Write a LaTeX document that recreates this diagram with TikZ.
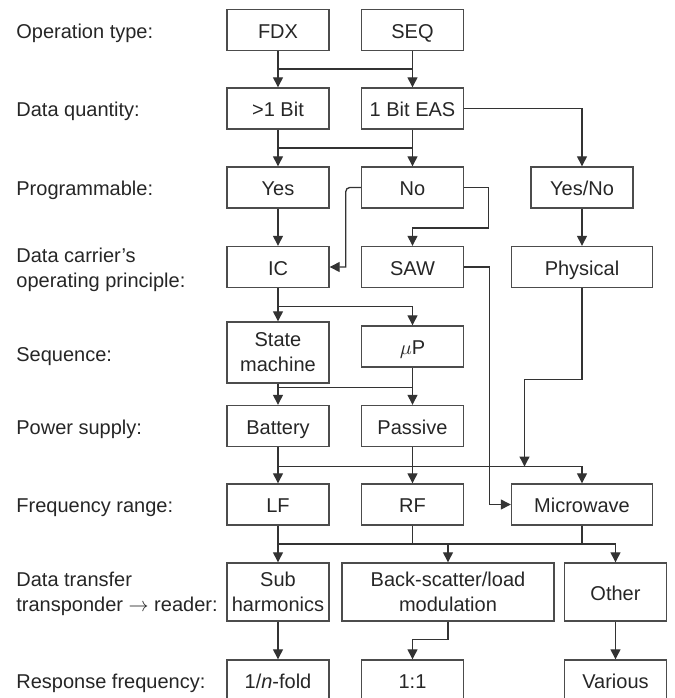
\documentclass[tikz,border=0pt]{standalone}
\usepackage{fontspec}
\setmainfont{Liberation Sans}
\usetikzlibrary{arrows.meta}
\begin{document}
\begin{tikzpicture}[x=0.5pt, y=-0.5pt,
          every node/.style = {font=\fontsize{10}{12.5}\selectfont, text=black!85},
          frame/.style = {shape=rectangle, draw=black!70, line width=0.7pt,
            align=center, inner sep=0pt,
            minimum width=51pt, minimum height=20.5pt},
          box/.style = {frame, text height=10pt, text depth=1.6pt},
          wide/.style = {box, minimum width=70.5pt},
          tall/.style = {frame, minimum height=29pt},
          caption/.style = {anchor=west, align=left, inner sep=0pt},
          onecap/.style = {caption, text height=10pt, text depth=1.6pt},
          line/.style = {draw=black!80, line width=0.65pt},
          arr/.style = {line, -{Triangle[length=5pt,width=5pt]}}]
  \useasboundingbox (0,0) rectangle (675,698);
  % row captions
  \node[onecap] (c1) at (16,30)    {Operation type:};
  \node[onecap] (c2) at (16,108.5) {Data quantity:};
  \node[onecap] (c3) at (16,187.5) {Programmable:};
  \node[caption] (c4) at (16,270)  {Data carrier's\\operating principle:};
  \node[onecap] (c5) at (16,353)   {Sequence:};
  \node[onecap] (c6) at (16,426)   {Power supply:};
  \node[onecap] (c7) at (16,504.5) {Frequency range:};
  \node[caption] (c8) at (16,594)  {Data transfer\\transponder $\rightarrow$ reader:};
  \node[onecap] (c9) at (16,680.5) {Response frequency:};
  % boxes
  \node[box] (fdx)   at (278,30)      {FDX};
  \node[box] (seq)   at (412.5,30)    {SEQ};
  \node[box] (multi) at (278,108.5)   {>1 Bit};
  \node[box] (eas)   at (412.5,108.5) {1 Bit EAS};
  \node[box] (yes)   at (278,187.5)   {Yes};
  \node[box] (no)    at (412.5,187.5) {No};
  \node[box] (yesno) at (582,187.5)   {Yes/No};
  \node[box] (ic)    at (278,267)     {IC};
  \node[box] (saw)   at (412.5,267)   {SAW};
  \node[wide] (phys) at (582,267)     {Physical};
  \node[frame, minimum height=30.5pt] (state) at (278,352.5) {State\\machine};
  \node[box] (mup)   at (412.5,346.5) {$\mu$P};
  \node[box] (batt)  at (278,426)     {Battery};
  \node[box] (pass)  at (412.5,426)   {Passive};
  \node[box] (lf)    at (278,504.5)   {LF};
  \node[box] (rf)    at (412.5,504.5) {RF};
  \node[wide] (micro) at (582,504.5)  {Microwave};
  \node[tall] (sub)  at (278,592)     {Sub\\harmonics};
  \node[tall, minimum width=106pt] (back) at (448,592) {Back-scatter/load\\modulation};
  \node[tall, text height=10pt, text depth=1.6pt] (other) at (615.5,592) {Other};
  \node[box] (nfold) at (278,680.5)   {1/\textit{n}-fold};
  \node[box] (one)   at (412.5,680.5) {1:1};
  \node[box] (var)   at (615.5,680.5) {Various};
  % bus levels
  \coordinate (b1) at (0,69);
  \coordinate (b2) at (0,148);
  \coordinate (b5) at (0,387.5);
  \coordinate (pm) at (524.5,466.5);
  \coordinate (b7) at (0,544);
  % connectors
  \draw[arr] (fdx) -- (multi);
  \draw[arr] (seq) -- (eas);
  \draw[line] (fdx.south |- b1) -- (seq.south |- b1);
  \draw[arr] (multi) -- (yes);
  \draw[arr] (eas) -- (no);
  \draw[line] (multi.south |- b2) -- (eas.south |- b2);
  \draw[arr] (eas.east) -| (yesno.north);
  \draw[arr] (yes) -- (ic);
  \draw[arr] (no.west) [rounded corners=2pt] -- ++(-15,0) [sharp corners] |- (ic.east);
  \draw[arr] (no.east) -- ++(24,0) -- ++(0,40.5) -| (saw.north);
  \draw[arr] (yesno) -- (phys);
  \draw[arr] (ic) -- (state);
  \draw[arr] (ic.south) -- ++(0,18) -| (mup.north);
  \draw[arr] (saw.east) -- ++(25,0) |- (micro.west);
  \draw[arr] (phys.south) -- ++(0,91) -| (pm);
  \draw[arr] (state) -- (batt);
  \draw[arr] (mup) -- (pass);
  \draw[line] (state.south |- b5) -- (mup.south |- b5);
  \draw[arr] (batt) -- (lf);
  \draw[arr] (pass) -- (rf);
  \draw[arr] (batt.south |- pm) -| (micro.north);
  \draw[arr] (lf) -- (sub);
  \draw[line] (rf.south) -- (rf.south |- b7);
  \draw[line] (micro.south) -- (micro.south |- b7);
  \draw[arr] (lf.south |- b7) -| (other.north);
  \draw[arr] (back.north |- b7) -- (back.north);
  \draw[arr] (sub) -- (nfold);
  \draw[arr] (back.south) -- ++(0,18) -| (one.north);
  \draw[arr] (other) -- (var);
\end{tikzpicture}
\end{document}
